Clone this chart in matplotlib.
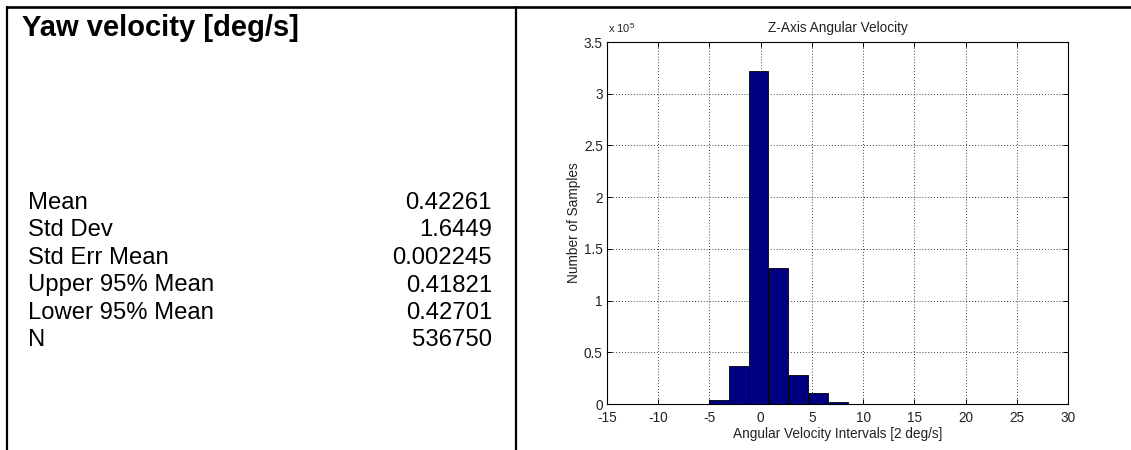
import matplotlib
matplotlib.use("Agg")
import matplotlib.pyplot as plt
from matplotlib.lines import Line2D
from matplotlib.ticker import FuncFormatter, MultipleLocator

# ---- summary statistics ----
panel_title = "Yaw velocity [deg/s]"
stat_names = ["Mean", "Std Dev", "Std Err Mean", "Upper 95% Mean", "Lower 95% Mean", "N"]
stat_values = ["0.42261", "1.6449", "0.002245", "0.41821", "0.42701", "536750"]

# ---- histogram of z-axis angular velocity ----
bin_centers = [-13.75, -11.82, -9.88, -7.95, -6.01, -4.08, -2.14, -0.21, 1.73,
               3.66, 5.60, 7.53, 9.47, 11.40, 13.34, 15.27, 17.21, 19.14,
               21.08, 23.01, 24.95]
bin_counts = [30, 40, 60, 110, 260, 4000, 36700, 322000, 131800,
              28300, 10900, 2200, 310, 150, 80, 50, 40, 30, 20, 15, 10]
bin_width = 1.935

x_ticks = [-15, -10, -5, 0, 5, 10, 15, 20, 25, 30]

W, H = 1131, 450
plt.rcParams["font.family"] = ["Liberation Sans", "DejaVu Sans"]
plt.rcParams["mathtext.fontset"] = "custom"
plt.rcParams["mathtext.rm"] = "Liberation Sans"
plt.rcParams["mathtext.it"] = "Liberation Sans:italic"
plt.rcParams["axes.unicode_minus"] = False

fig = plt.figure(figsize=(W / 100, H / 100), dpi=100)
fig.patch.set_facecolor("white")


def fx(px):
    return px / W


def fy(py):
    return 1 - py / H


# table frame
fig.add_artist(Line2D([fx(7), fx(1131)], [fy(7), fy(7)], color="black", lw=1.9,
                      transform=fig.transFigure, solid_capstyle="butt"))
fig.add_artist(Line2D([fx(7), fx(7)], [fy(6), fy(450)], color="black", lw=1.6,
                      transform=fig.transFigure, solid_capstyle="butt"))
fig.add_artist(Line2D([fx(515.5), fx(515.5)], [fy(6), fy(450)], color="black", lw=1.6,
                      transform=fig.transFigure, solid_capstyle="butt"))

# left panel text
fig.text(fx(22), fy(36), panel_title, fontsize=21, fontweight="bold",
         ha="left", va="baseline", color="black")
for i, (name, val) in enumerate(zip(stat_names, stat_values)):
    yb = 209 + i * 27.5
    fig.text(fx(28), fy(yb), name, fontsize=17.2, ha="left", va="baseline", color="black")
    fig.text(fx(492), fy(yb), val, fontsize=17.2, ha="right", va="baseline", color="black")

# histogram axes
ax = fig.add_axes([fx(607), fy(404), (1068 - 607) / W, (404 - 42) / H])
ax.bar(bin_centers, bin_counts, width=bin_width, color="#000080",
       edgecolor="black", linewidth=0.6, zorder=3)

ax.set_xlim(-15, 30)
ax.set_ylim(0, 3.5e5)
ax.set_xticks(x_ticks)
ax.yaxis.set_major_locator(MultipleLocator(0.5e5))
ax.yaxis.set_major_formatter(FuncFormatter(lambda v, _: f"{v / 1e5:g}"))

ax.grid(True, linestyle=(0, (1, 2.5)), color="black", linewidth=0.6, zorder=0)
ax.tick_params(direction="in", top=True, right=True, length=3.5, width=0.7,
               labelsize=9.8, labelcolor="#222222")
ax.tick_params(axis="y", pad=3)
ax.tick_params(axis="x", pad=5)
for s in ax.spines.values():
    s.set_linewidth(0.8)
    s.set_zorder(4)

ax.set_title("Z-Axis Angular Velocity", fontsize=9.8, color="#222222", pad=7)
ax.set_xlabel("Angular Velocity Intervals [2 deg/s]", fontsize=9.8, color="#222222")
ax.set_ylabel("Number of Samples", fontsize=9.8, color="#222222")
ax.xaxis.set_label_coords(0.5, (404 - 427) / 362)
ax.yaxis.set_label_coords((581 - 607) / 461, 0.5)

ax.text(0.002, 1.018, r"x 10$^{5}$", transform=ax.transAxes, fontsize=8,
        color="#222222", ha="left", va="bottom")

fig.savefig("out.png", dpi=100, facecolor="white")
